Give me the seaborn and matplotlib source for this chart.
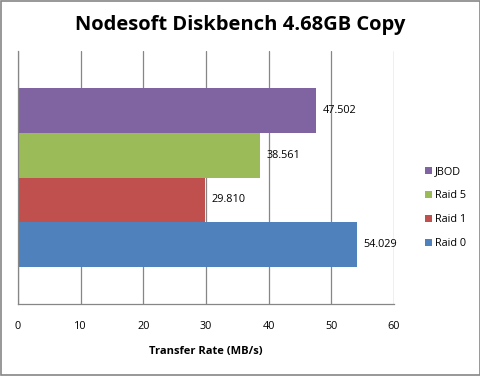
import matplotlib
matplotlib.use("Agg")
import matplotlib.pyplot as plt
import seaborn as sns
import pandas as pd
from matplotlib.patches import Rectangle, Patch

series = ["JBOD", "Raid 5", "Raid 1", "Raid 0"]
values = [47.502, 38.561, 29.810, 54.029]
colors = ["#8064A2", "#9BBB59", "#C0504D", "#4F81BD"]
category = ["Copy"] * 4
xticks = [0, 10, 20, 30, 40, 50, 60]

sns.set_theme(style="white")
plt.rcParams['font.family'] = ['Open Sans', 'DejaVu Sans']
plt.rcParams['text.color'] = 'black'
plt.rcParams['axes.labelcolor'] = 'black'
plt.rcParams['xtick.color'] = 'black'
plt.rcParams['ytick.color'] = 'black'

df = pd.DataFrame({"cat": category, "series": series, "value": values})

fig = plt.figure(figsize=(4.81, 3.76), dpi=100)
ax = fig.add_axes([18/481, 1 - 304/376, (394-18)/481, (304-51)/376])

sns.barplot(data=df, y="cat", x="value", hue="series", hue_order=series,
            palette=colors, orient="h", width=0.707, dodge=True,
            saturation=1, ax=ax, legend=False, errorbar=None)

for cont in ax.containers:
    for bar in cont:
        bar.set_edgecolor("none")
        w = bar.get_width()
        ax.annotate(f"{w:.3f}", (w, bar.get_y() + bar.get_height()/2),
                    xytext=(5, 0), textcoords="offset points",
                    ha="left", va="center", fontsize=7.8, color="black")

ax.set_xlim(0, 60)
ax.set_ylim(0.5, -0.5)
ax.set_xticks(xticks)
ax.set_xticklabels([str(t) for t in xticks], fontsize=7.8)
ax.set_yticks([])
ax.set_ylabel("")
ax.set_xlabel("Transfer Rate (MB/s)", fontsize=8, fontweight="bold", labelpad=10)
ax.tick_params(axis="x", length=0, pad=12)
ax.grid(axis="x", color="#868686", linewidth=0.9)
ax.set_axisbelow(True)
for s in ["top", "right"]:
    ax.spines[s].set_visible(False)
for s in ["left", "bottom"]:
    ax.spines[s].set_color("#868686")
    ax.spines[s].set_linewidth(0.9)

fig.text(240/481, 1 - 25/376, "Nodesoft Diskbench 4.68GB Copy",
         ha="center", va="center", fontsize=14.5, fontweight="bold", color="black")

handles = [Patch(facecolor=c, edgecolor="none", label=s) for s, c in zip(series, colors)]
fig.legend(handles=handles, loc="center left", bbox_to_anchor=(415/481, 1 - 208/376),
           frameon=False, fontsize=7.8, handlelength=0.65, handleheight=0.65,
           handletextpad=0.3, labelspacing=1.2)

fig.patches.append(Rectangle((0.002, 0.002), 0.996, 0.995, transform=fig.transFigure,
                             fill=False, edgecolor="#868686", linewidth=1.2))

fig.savefig("out.png", dpi=100)
